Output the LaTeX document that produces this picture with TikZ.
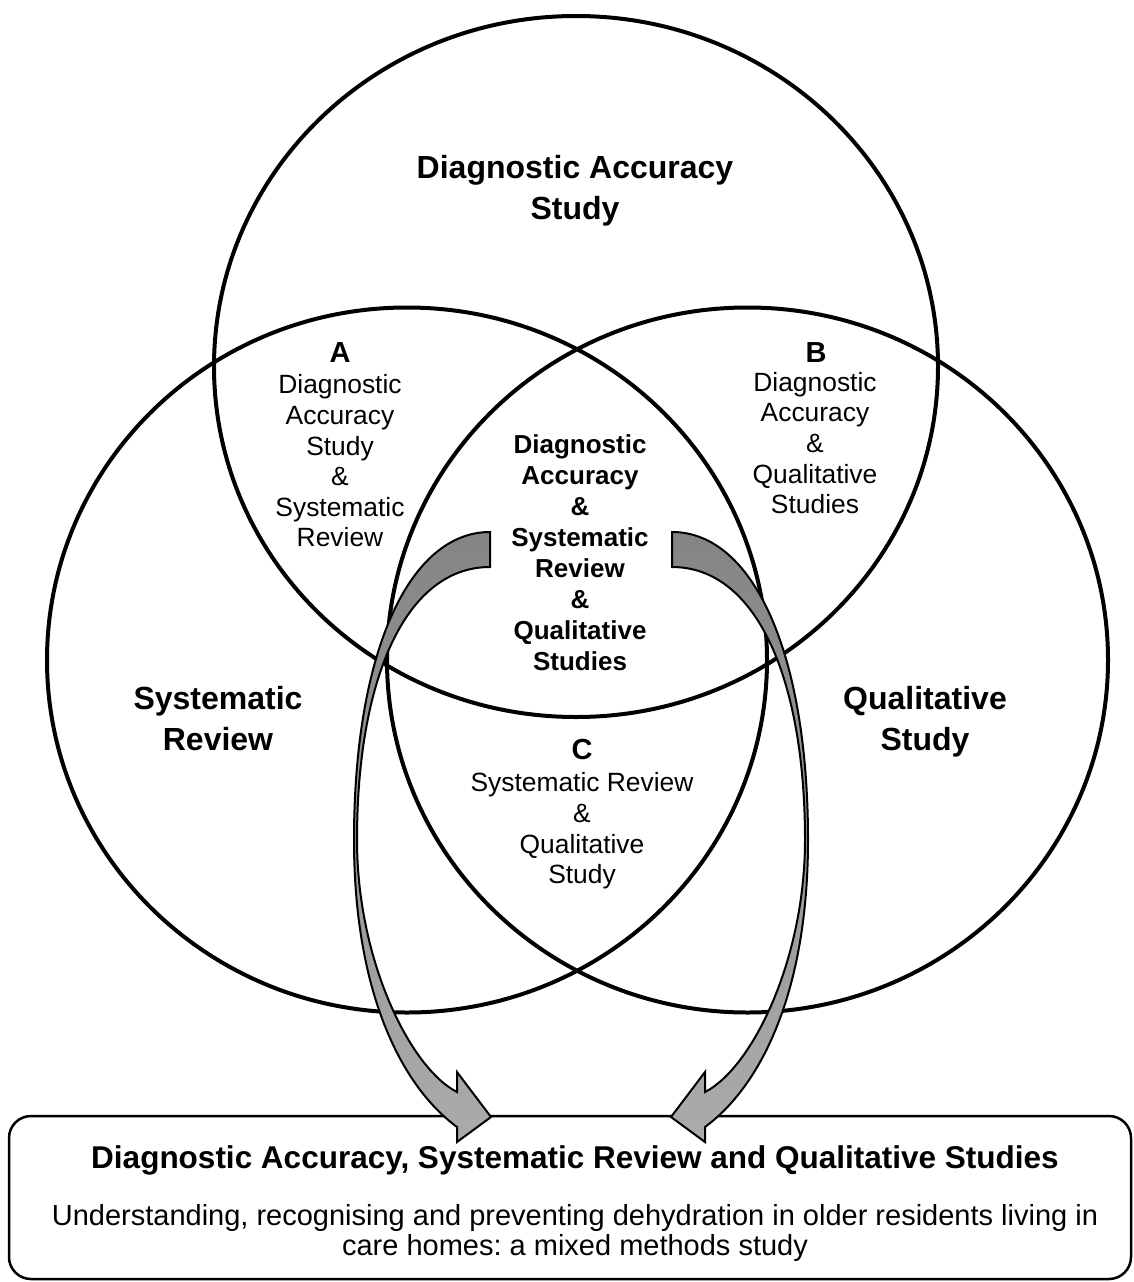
\documentclass[tikz,border=0pt]{standalone}
\usepackage{fontspec}
\setmainfont{Liberation Sans}
\usetikzlibrary{shapes.geometric}
\frenchspacing

\begin{document}
\begin{tikzpicture}[
    x=1pt, y=-1pt,
    venn/.style={draw, ellipse, line width=4pt, inner sep=0pt},
    setname/.style={font=\fontsize{32}{41}\selectfont\bfseries, align=center},
    setletter/.style={font=\fontsize{29}{34}\selectfont\bfseries},
    overlap/.style={font=\fontsize{26.4}{30.6}\selectfont, align=center},
    core/.style={font=\fontsize{26}{31}\selectfont\bfseries, align=center},
    bentarrow/.style={draw, line width=2pt, line join=miter, top color=black!48, bottom color=black!33}
]
    \useasboundingbox (0,0) rectangle (1133,1282);

    % the three study sets
    \node[venn, minimum width=724pt, minimum height=701pt] (diag) at (576,366.5) {};
    \node[venn, minimum width=720pt, minimum height=705pt] (sysrev) at (407,660) {};
    \node[venn, minimum width=721pt, minimum height=705pt] (qual) at (747.5,660) {};

    \node[setname] (diagname) at (575,191) {Diagnostic Accuracy\\Study};
    \node[setname] (sysname) at (218,719) {Systematic\\Review};
    \node[setname] (qualname) at (925,722) {Qualitative\\Study};

    % pairwise overlaps
    \node[setletter] (labA) at (340,353) {A};
    \node[overlap] (txtA) at (340,461) {Diagnostic\\Accuracy\\Study\\\&\\Systematic\\Review};
    \node[setletter] (labB) at (816,353) {B};
    \node[overlap] (txtB) at (815,443) {Diagnostic\\Accuracy\\\&\\Qualitative\\Studies};
    \node[setletter] (labC) at (582,750) {C};
    \node[overlap] (txtC) at (582,831) {Systematic Review\\\&\\Qualitative\\Study};

    % all three
    \node[core] (all) at (580,553) {Diagnostic\\Accuracy\\\&\\Systematic\\Review\\\&\\Qualitative\\Studies};

    % summary box
    \node[draw, rounded corners=22pt, line width=2.5pt, minimum width=1122pt, minimum height=163pt] (summary) at (570,1197.5) {};
    \node[font=\fontsize{31.5}{36}\selectfont\bfseries] (sumtitle) at (575,1160)
        {Diagnostic Accuracy, Systematic Review and Qualitative Studies};
    \node[font=\fontsize{29}{30}\selectfont, align=center] (sumtext) at (575,1233)
        {Understanding, recognising and preventing dehydration in older residents living in\\care homes: a mixed methods study};

    % curved block arrows from the core down to the box
    \draw[bentarrow] (490,532) .. controls (410,532) and (354,650) .. (354,840)
        .. controls (354,990) and (400,1085) .. (457,1127)
        -- (457,1142) -- (491,1117) -- (457,1072) -- (457,1092)
        .. controls (410,1068) and (357,960) .. (357,840)
        .. controls (357,680) and (405,567) .. (490,567) -- cycle;
    \begin{scope}[xshift=1162pt, xscale=-1]
        \draw[bentarrow] (490,532) .. controls (410,532) and (354,650) .. (354,840)
            .. controls (354,990) and (400,1085) .. (457,1127)
            -- (457,1142) -- (491,1117) -- (457,1072) -- (457,1092)
            .. controls (410,1068) and (357,960) .. (357,840)
            .. controls (357,680) and (405,567) .. (490,567) -- cycle;
    \end{scope}
\end{tikzpicture}
\end{document}
